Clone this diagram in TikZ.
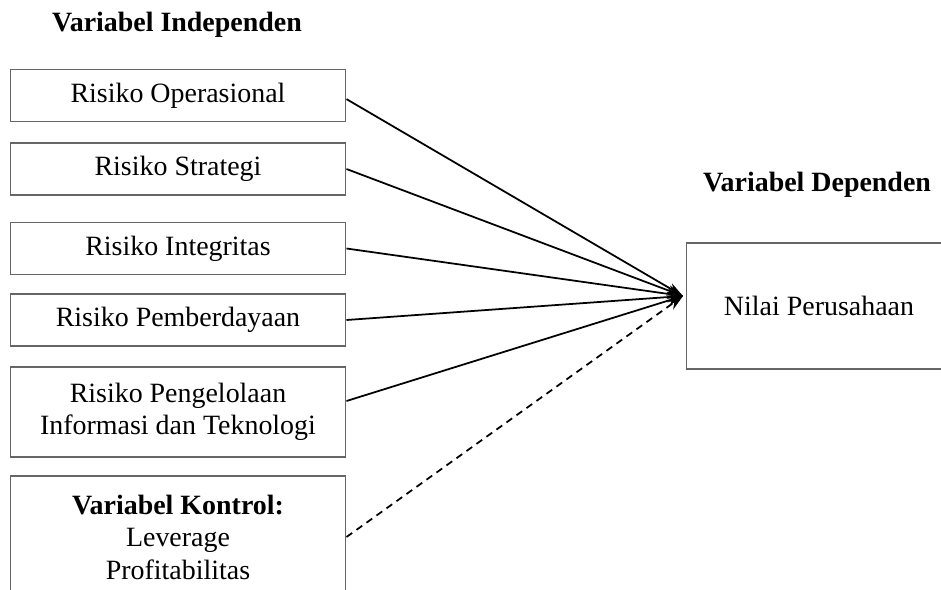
\documentclass[tikz,border=0pt]{standalone}
\usepackage{fontspec}
\setmainfont{Liberation Serif}
\usetikzlibrary{positioning,arrows.meta}

\begin{document}
\begin{tikzpicture}[
	x=0.02cm, y=-0.02cm,
	font=\fontsize{15.9}{18.5}\selectfont,
	>={Stealth[length=9pt,width=6pt]}]

\tikzstyle{variabel} = [
    draw=black!60, line width=0.6pt,
    minimum width=6.72cm, minimum height=1.04cm,
    align=center, inner sep=0pt
]
\tikzstyle{judul} = [
    font=\fontsize{15.9}{18.5}\selectfont\bfseries
]
\tikzstyle{panah} = [->, line width=1pt, black]

\clip (0,0) rectangle (941,589);

% judul
\node [judul] (independen) at (177,25) {Variabel Independen};
\node [judul] (dependen) at (817,185) {Variabel Dependen};

% variabel independen
\node [variabel] (operasional) at (178,95.6) {Risiko Operasional};
\node [variabel] (strategi) at (178,169) {Risiko Strategi};
\node [variabel] (integritas) at (178,248.5) {Risiko Integritas};
\node [variabel] (pemberdayaan) at (178,320) {Risiko Pemberdayaan};
\node [variabel, minimum height=1.8cm] (teknologi) at (178,412)
    {Risiko Pengelolaan\\Informasi dan Teknologi};
\node [variabel, minimum height=2.44cm] (kontrol) at (178,537)
    {\textbf{Variabel Kontrol:}\\Leverage\\Profitabilitas};

% variabel dependen
\node [variabel, minimum width=5.32cm, minimum height=2.52cm]
    (nilai) at (819,306) {Nilai Perusahaan};
\coordinate (tip) at ([xshift=-0.05cm, yshift=0.2cm]nilai.west);

\draw [panah] ([yshift=-0.07cm]operasional.east) -- (tip);
\draw [panah] (strategi.east) -- (tip);
\draw [panah] (integritas.east) -- (tip);
\draw [panah] (pemberdayaan.east) -- (tip);
\draw [panah] ([yshift=0.22cm]teknologi.east) -- (tip);
\draw [panah, dash pattern=on 4pt off 3pt] (kontrol.east) -- (tip);
\end{tikzpicture}
\end{document}
